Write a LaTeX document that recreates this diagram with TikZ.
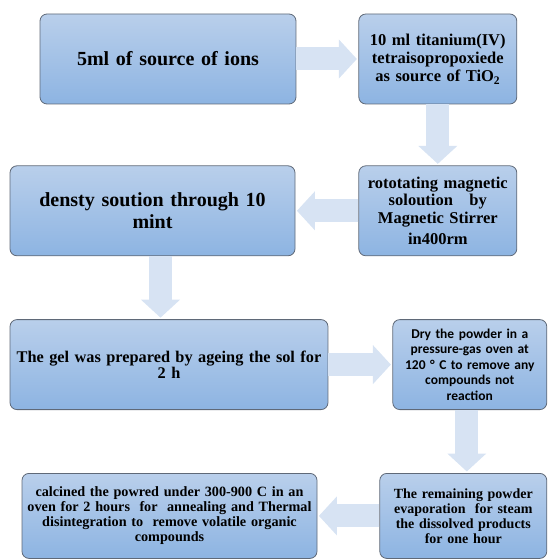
\documentclass[tikz,border=0pt]{standalone}
\usepackage{fontspec}
\setmainfont{Liberation Serif}
\newfontfamily\calibri{Carlito}
\usetikzlibrary{positioning,arrows.meta}

\definecolor{boxtop}{RGB}{185,207,235}
\definecolor{boxbottom}{RGB}{141,180,226}
\definecolor{boxline}{RGB}{95,105,120}
\definecolor{arrowfill}{RGB}{215,227,243}

\begin{document}
\begin{tikzpicture}[node distance=62pt,
	block/.style={rectangle,rounded corners=7pt,draw=boxline,line width=0.8pt,
		top color=boxtop,bottom color=boxbottom,align=center,inner sep=3pt,
		minimum height=90pt,font=\bfseries},
	flow/.style={arrowfill,line width=23pt,shorten >=1.5pt,
		-{Triangle[length=18pt,width=38pt]}}]
	\useasboundingbox (0,0) rectangle (547pt,-559pt);
	\node[block,minimum width=256pt,text width=246pt,font=\bfseries\fontsize{20}{23}\selectfont] (ions) at (168pt,-59pt) {5ml of source of ions};
	\node[block,right=62pt of ions,minimum width=158pt,text width=152pt,font=\bfseries\fontsize{16.5}{18}\selectfont] (tio2) {10 ml titanium(IV)\\tetraisopropoxiede\\as source of TiO\textsubscript{2}};
	\node[block,below=61pt of tio2,minimum width=158pt,text width=152pt,font=\bfseries\fontsize{16.5}{17.5}\selectfont] (stirrer) {rototating magnetic\\soloution \ \ by\\Magnetic Stirrer\\[4pt]in400rm};
	\node[block,left=63pt of stirrer,minimum width=285pt,text width=275pt,font=\bfseries\fontsize{20}{22}\selectfont] (density) {densty soution through 10\\mint};
	\node[block,below=63pt of density.south west,anchor=north west,minimum width=318pt,inner sep=0pt,text width=318pt,font=\bfseries\fontsize{16.3}{16.5}\selectfont] (gel) {The gel was prepared by ageing the sol for\\2 h};
	\node[block,right=64pt of gel,minimum width=154pt,text width=148pt,font=\calibri\bfseries\fontsize{13.5}{15.5}\selectfont] (dry) {Dry the powder in a\\pressure-gas oven at\\120 ° C to remove any\\compounds not\\reaction};
	\node[block,below=63pt of dry.south east,anchor=north east,minimum width=167pt,minimum height=85pt,text width=161pt,font=\bfseries\fontsize{14}{15}\selectfont] (remaining) {The remaining powder\\evaporation \ for steam\\the dissolved products\\for one hour};
	\node[block,left=62pt of remaining,minimum width=295pt,minimum height=85pt,text width=289pt,font=\bfseries\fontsize{14.2}{15}\selectfont] (calcined) {calcined the powred under 300-900 C in an\\oven for 2 hours \ for \ annealing and Thermal\\disintegration to \ remove volatile organic\\compounds};
	\draw[flow] (ions) -- (tio2);
	\draw[flow] (tio2) -- (stirrer);
	\draw[flow] (stirrer) -- (density);
	\draw[flow] ([xshift=8pt]density.south) -- ([xshift=8pt]density.south |- gel.north);
	\draw[flow] (gel) -- (dry);
	\draw[flow] ([xshift=-3pt]dry.south) -- ([xshift=-3pt]dry.south |- remaining.north);
	\draw[flow] (remaining) -- (calcined);
\end{tikzpicture}
\end{document}
